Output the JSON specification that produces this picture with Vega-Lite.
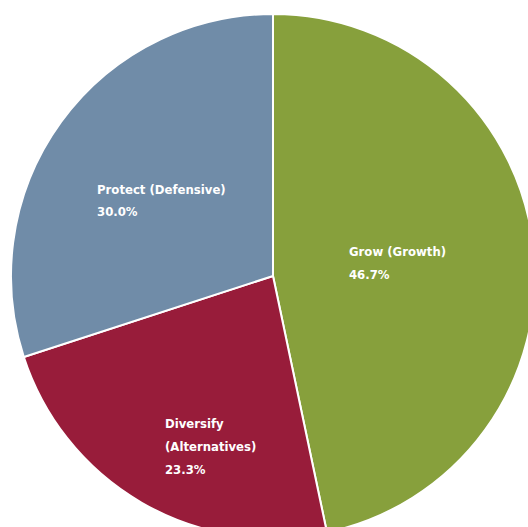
{
  "$schema": "https://vega.github.io/schema/vega-lite/v6.json",
  "width": 510,
  "height": 502,
  "autosize": {"type": "none"},
  "padding": {"left": 18, "top": 25, "right": 0, "bottom": 0},
  "background": "white",
  "config": {"view": {"stroke": null}},
  "data": {
    "values": [
      {"name": "Grow (Growth)", "share": 46.7, "order": 1, "label": "Grow (Growth)\n46.7%"},
      {"name": "Diversify (Alternatives)", "share": 23.3, "order": 2, "label": "\u00a0Diversify\n(Alternatives)\n23.3%"},
      {"name": "Protect (Defensive)", "share": 30.0, "order": 3, "label": "Protect (Defensive)\n30.0%"}
    ]
  },
  "transform": [
    {"stack": "share", "groupby": [], "sort": [{"field": "order"}], "as": ["t0", "t1"]},
    {"calculate": "(datum.t0 + datum.t1) / 2", "as": "tm"}
  ],
  "layer": [
    {
      "mark": {"type": "arc", "radius": 262, "stroke": "white", "strokeWidth": 2},
      "encoding": {
        "theta": {"field": "t0", "type": "quantitative", "scale": {"domain": [0, 100]}, "stack": null},
        "theta2": {"field": "t1"},
        "color": {
          "field": "name",
          "type": "nominal",
          "scale": {
            "domain": ["Grow (Growth)", "Diversify (Alternatives)", "Protect (Defensive)"],
            "range": ["#87a03c", "#981c3a", "#708ca8"]
          },
          "legend": null
        }
      }
    },
    {
      "transform": [{"filter": "datum.order == 1"}],
      "mark": {"type": "text", "radius": 77.7, "dx": -1.3, "dy": -12.2, "align": "left", "baseline": "alphabetic", "lineBreak": "\n", "lineHeight": 23, "font": "'DejaVu Sans Condensed', 'Roboto Condensed', Roboto, sans-serif", "fontWeight": "bold", "fontSize": 13, "color": "white"},
      "encoding": {
        "theta": {"field": "tm", "type": "quantitative", "scale": {"domain": [0, 100]}, "stack": null},
        "text": {"field": "label"}
      }
    },
    {
      "transform": [{"filter": "datum.order == 2"}],
      "mark": {"type": "text", "radius": 185.7, "dx": -15, "dy": -8.7, "align": "left", "baseline": "alphabetic", "lineBreak": "\n", "lineHeight": 23, "font": "'DejaVu Sans Condensed', 'Roboto Condensed', Roboto, sans-serif", "fontWeight": "bold", "fontSize": 13, "color": "white"},
      "encoding": {
        "theta": {"field": "tm", "type": "quantitative", "scale": {"domain": [0, 100]}, "stack": null},
        "text": {"field": "label"}
      }
    },
    {
      "transform": [{"filter": "datum.order == 3"}],
      "mark": {"type": "text", "radius": 190.6, "dx": -21.8, "dy": 30, "align": "left", "baseline": "alphabetic", "lineBreak": "\n", "lineHeight": 22, "font": "'DejaVu Sans Condensed', 'Roboto Condensed', Roboto, sans-serif", "fontWeight": "bold", "fontSize": 13, "color": "white"},
      "encoding": {
        "theta": {"field": "tm", "type": "quantitative", "scale": {"domain": [0, 100]}, "stack": null},
        "text": {"field": "label"}
      }
    }
  ]
}
